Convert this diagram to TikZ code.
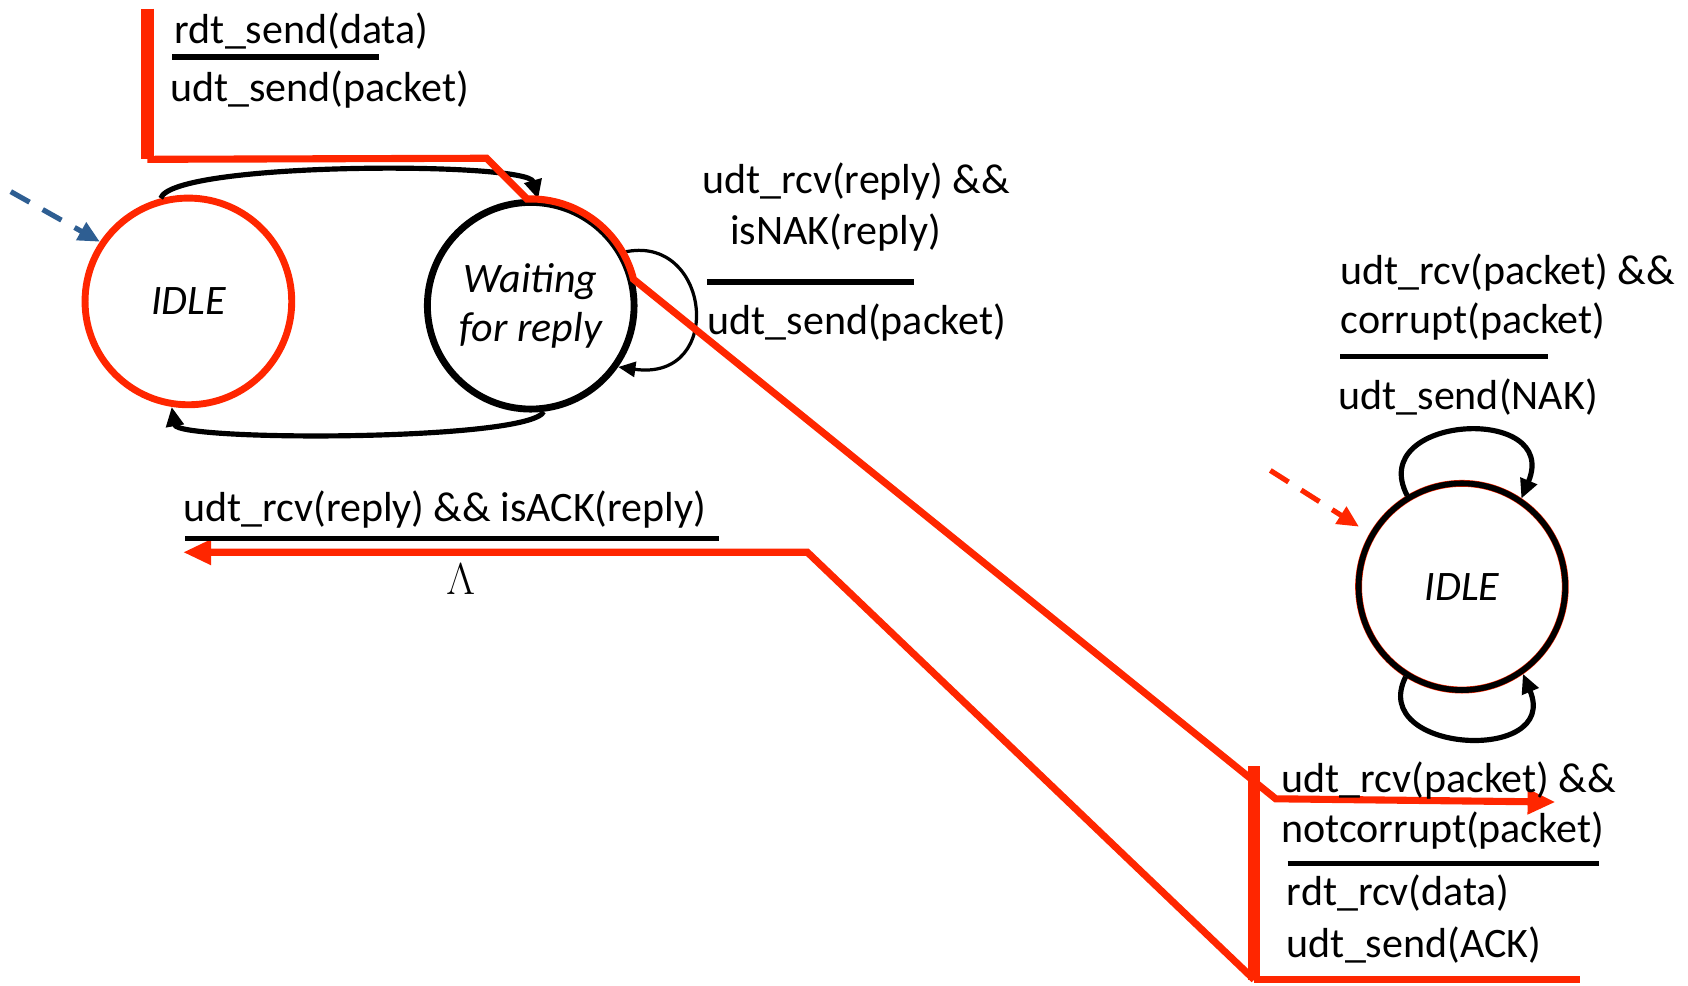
\documentclass[tikz,border=0pt]{standalone}
\usepackage{fontspec}
\setmainfont{Carlito}
\usetikzlibrary{arrows.meta,shapes.geometric,positioning}
\definecolor{flowred}{RGB}{255,38,0}
\definecolor{initblue}{RGB}{46,94,146}
\tikzset{
state/.style={circle, draw, line width=3.2pt, minimum size=96pt, inner sep=0pt, font=\fontsize{19.5}{23}\selectfont\itshape},
lbl/.style={anchor=base west, inner sep=0pt},
guardrule/.style={line width=2.4pt},
trans/.style={line width=2.4pt, -{Triangle[length=9pt,width=8pt]}},
flow/.style={draw=flowred, line width=3.3pt},
flowbar/.style={draw=flowred, line width=5.6pt},
flowtip/.style={-{Triangle[length=13pt,width=11pt]}},
init/.style={line width=2.4pt, dash pattern=on 10pt off 7pt, -{Triangle[length=10pt,width=9pt]}},
}

\begin{document}
\begin{tikzpicture}[x=0.5pt, y=-0.5pt, font=\fontsize{19.5}{23}\selectfont]
\useasboundingbox (0,0) rectangle (1568,915);

% Draw states.
\node[state, draw=flowred] (idleS) at (175,280) {IDLE};
\node[state, align=center] (waitS) at (493,284) {Waiting\\for reply};
\draw[flowred, line width=3.2pt] (1358,545) circle [radius=48pt];
\node[state, line width=2.7pt] (idleR) at (1358,545) {IDLE};

% Initial arrows.
\coordinate (startS) at (10,178);
\coordinate (startR) at (1180,437);
\draw[init, initblue] (startS) -- (idleS.146);
\draw[init, flowred, shorten >=6pt] (startR) -- (idleR.150);

% Transitions between states.
\draw[trans] (idleS.105) .. controls (160,150) and (490,150) .. (waitS.86);
\draw[trans] (waitS.-83) .. controls (490,410) and (165,410) .. (idleS.-99);
\draw[trans, line width=1.5pt, -{Triangle[length=8pt,width=7pt]}]
  (waitS.30) .. controls (660,215) and (675,355) .. (waitS.-35);
\draw[trans] (idleR.121) .. controls (1268,385) and (1450,375) .. (idleR.56);
\draw[trans] (idleR.-122) .. controls (1270,700) and (1450,710) .. (idleR.-55);

% Red flow of a packet and its reply.
\coordinate (sTop) at (137,8);
\coordinate (sCorner) at (137,148);
\coordinate (sBend) at (452,147);
\coordinate (rBend) at (1185,742);
\coordinate (rTip) at (1445,745);
\draw[flowbar] (sTop) -- (sCorner);
\draw[flow, flowtip, line join=miter] (sCorner) -- (sBend) -- (waitS.92)
  arc[start angle=92, end angle=14, radius=49.2pt] -- (rBend) -- (rTip);

\coordinate (aTop) at (1165,712);
\coordinate (aBot) at (1165,910);
\coordinate (aEnd) at (1468,910);
\coordinate (aBend) at (750,513);
\coordinate (aTip) at (170,513);
\draw[flowbar] (aTop) -- (aBot);
\draw[flow] (aBot) -- (aEnd);
\draw[flow, flowtip] (aBot) -- (aBend) -- (aTip);

% Guards and actions.
\node[lbl] (sndGuard) at (162,40) {rdt\_send(data)};
\node[lbl] (sndAct) at (158,94) {udt\_send(packet)};
\node[lbl] (nakGuardA) at (652,180) {udt\_rcv(reply) \&\&};
\node[lbl] (nakGuardB) at (678,227) {isNAK(reply)};
\node[lbl] (nakAct) at (657,311) {udt\_send(packet)};
\node[lbl] (ackGuard) at (170,484) {udt\_rcv(reply) \&\& isACK(reply)};
\node (ackAct) at (428,538) {$\Lambda$};
\node[lbl] (crGuardA) at (1245,264) {udt\_rcv(packet) \&\&};
\node[lbl] (crGuardB) at (1245,310) {corrupt(packet)};
\node[lbl] (crAct) at (1243,380) {udt\_send(NAK)};
\node[lbl] (okGuardA) at (1190,736) {udt\_rcv(packet) \&\&};
\node[lbl] (okGuardB) at (1190,783) {notcorrupt(packet)};
\node[lbl] (okActA) at (1195,841) {rdt\_rcv(data)};
\node[lbl] (okActB) at (1195,889) {udt\_send(ACK)};

% Rules between guard and action.
\foreach \xa/\xb/\y in {160/352/53, 657/849/262, 172/668/500, 1245/1438/331, 1196/1485/802}
\draw[guardrule] (\xa,\y) -- (\xb,\y);
\end{tikzpicture}
\end{document}
